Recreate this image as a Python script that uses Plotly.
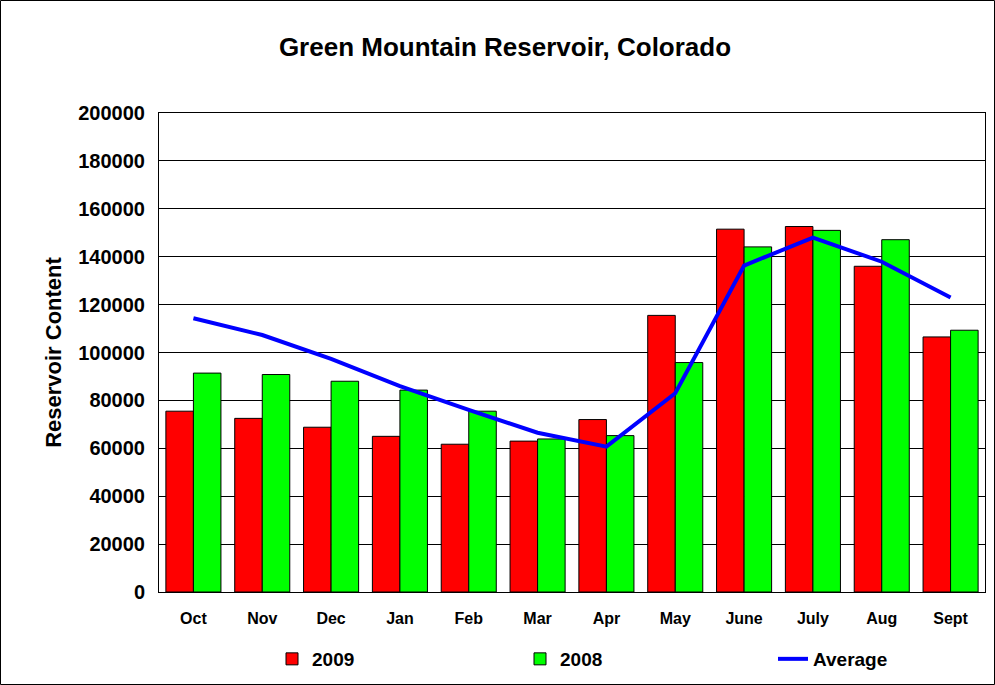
import plotly.graph_objects as go

months = ["Oct", "Nov", "Dec", "Jan", "Feb", "Mar", "Apr", "May", "June", "July", "Aug", "Sept"]
y2009 = [75500, 72500, 68800, 65000, 61700, 63000, 72000, 115500, 151500, 152600, 136000, 106500]
y2008 = [91400, 90800, 88000, 84300, 75500, 63900, 65300, 95800, 144100, 151000, 147100, 109300]
average = [114300, 107300, 97300, 86000, 76000, 66500, 60700, 83000, 136300, 148000, 137900, 123000]
y_ticks = list(range(0, 200001, 20000))

FONT = "Liberation Sans, Arial, sans-serif"

L, R, T, B = 159, 10, 113, 93
W, H = 995, 685
pw, ph = W - L - R, H - T - B

fig = go.Figure()
fig.add_trace(go.Bar(x=months, y=y2009, name="2009", legend="legend",
                     marker=dict(color="#FF0000", line=dict(color="black", width=1))))
fig.add_trace(go.Bar(x=months, y=y2008, name="2008", legend="legend2",
                     marker=dict(color="#00FF00", line=dict(color="black", width=1))))
fig.add_trace(go.Scatter(x=months, y=average, name="Average", mode="lines", legend="legend3",
                         line=dict(color="#0000FF", width=4)))


def leg(px):
    return dict(x=(px - L) / pw, xanchor="left", y=(592 - 659) / ph, yanchor="middle",
                bgcolor="rgba(0,0,0,0)", borderwidth=0,
                font=dict(size=19, family=FONT, weight="bold"))


fig.update_layout(
    width=W, height=H,
    margin=dict(l=L, r=R, t=T, b=B, autoexpand=False),
    paper_bgcolor="white", plot_bgcolor="white",
    font=dict(family=FONT, color="black"),
    barmode="group", bargap=0.2, bargroupgap=0,
    title=dict(text="Green Mountain Reservoir, Colorado", x=505 / W, xanchor="center",
               y=1 - 47 / H, yanchor="middle", font=dict(size=26, family=FONT, weight="bold")),
    showlegend=True,
    legend=leg(272), legend2=leg(520), legend3=leg(773),
    xaxis=dict(showline=True, linecolor="black", linewidth=1, mirror=True,
               showgrid=False, ticks="", tickfont=dict(size=16, family=FONT, weight="bold"),
               ticklabelstandoff=12),
    yaxis=dict(range=[0, 200000], tickvals=y_ticks, tickformat="d", showline=True, linecolor="black",
               linewidth=1, mirror=True, showgrid=True, gridcolor="black", gridwidth=1,
               ticks="", tickfont=dict(size=20, family=FONT, weight="bold"),
               ticklabelstandoff=9, zeroline=False,
               title=dict(text="Reservoir Content", font=dict(size=22, family=FONT, weight="bold"),
                          standoff=10)),
    shapes=[dict(type="rect", xref="paper", yref="paper",
                 x0=(0.5 - L) / pw, x1=(W - 0.5 - L) / pw,
                 y0=(592 - (H - 0.5)) / ph, y1=(592 - 0.5) / ph,
                 line=dict(color="black", width=1), fillcolor="rgba(0,0,0,0)", layer="below")],
)

fig.write_html("out.html", config={"displayModeBar": False},
               post_script="document.body.style.margin='0';document.body.style.padding='0';")
